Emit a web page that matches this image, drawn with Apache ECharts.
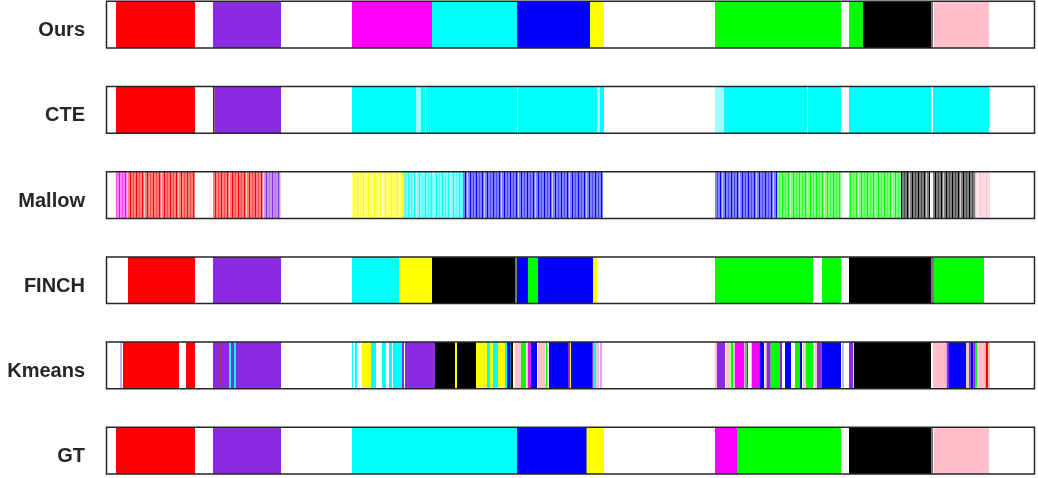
<!DOCTYPE html>
<html>
<head>
<meta charset="utf-8">
<script src="https://cdn.jsdelivr.net/npm/echarts@6/dist/echarts.min.js"></script>
<style>
  html, body { margin: 0; padding: 0; background: #fff; }
  #chart { width: 1038px; height: 478px; }
</style>
</head>
<body>
<div id="chart"></div>
<script>
// method names, top to bottom
const methods = ['Ours', 'CTE', 'Mallow', 'FINCH', 'Kmeans', 'GT'];

// timeline length (frames along the x axis)
const timelineLength = 929;

// segments per method: [start, end, class]
const oursSegs = [
  [10, 89, 'red'], [107, 175, 'purple'], [246, 326, 'magenta'], [326, 411, 'cyan'],
  [411, 484, 'blue'], [484, 498, 'yellow'], [609, 735, 'green'], [743, 757, 'green'],
  [757, 825, 'black'], [825, 827, 'gray'], [828, 883, 'pink']
];
const cteSegs = [
  [10, 89, 'red'], [107, 108.5, 'darkred'], [108.5, 175, 'purple'],
  [246, 310, 'cyan'], [310, 315, 'lightcyan'], [315, 319, 'cyan'], [320, 411, 'cyan'],
  [411.8, 491, 'cyan'], [491, 494, 'lightcyan'], [494, 498, 'cyan'],
  [609, 618, 'lightcyan'], [618, 701, 'cyan'], [702, 735, 'cyan'],
  [743, 825, 'cyan'], [827, 883, 'cyan']
];
const mallowSegs = [
  [10, 21, 'magenta'], [21, 89, 'red'], [107, 157, 'red'], [157, 175, 'purple'],
  [246, 297, 'yellow'], [297, 357, 'cyan'], [357, 497, 'blue'],
  [609, 671, 'blue'], [671, 736, 'green'], [743, 795, 'green'],
  [795, 824, 'black'], [827, 869, 'black'], [869, 884, 'pink']
];
const finchSegs = [
  [22, 89, 'red'], [107, 175, 'purple'], [246, 293, 'cyan'], [293, 326, 'yellow'],
  [326, 409, 'black'], [409, 411, 'gray'], [411, 422, 'blue'], [422, 432, 'green'],
  [432, 487, 'blue'], [487, 491, 'yellow'], [609, 707, 'green'], [716, 735, 'green'],
  [743, 825, 'black'], [825, 828, 'gray'], [828, 878, 'green']
];
const kmeansSegs = [
  [14, 16, 'lavender'], [17, 73, 'red'], [80, 89, 'red'],
  [107, 114, 'purple'], [114, 115, 'crimson'], [115, 123, 'purple'], [123, 125, 'cyan'],
  [125, 128, 'purple'], [128, 130, 'cyan'], [130, 175, 'purple'],
  [246, 247, 'cyan'], [249, 251, 'cyan'], [256, 265, 'yellow'], [265, 270, 'cyan'],
  [276, 280, 'cyan'], [283, 286, 'cyan'], [287, 296, 'cyan'], [296, 298, 'purple'],
  [299, 329, 'purple'], [329, 349, 'black'], [349, 351, 'yellow'], [351, 370, 'black'],
  [370, 381, 'yellow'], [381, 384, 'cyan'], [384, 387, 'yellow'], [387, 392, 'cyan'],
  [392, 399, 'yellow'], [399, 401, 'cyan'], [401, 404, 'blue'], [404, 405, 'teal'],
  [405, 407, 'black'], [407, 409, 'lightyellow'], [409, 415, 'pink'], [415, 420, 'green'],
  [421.7, 424.7, 'magenta'], [424.7, 431, 'blue'], [432, 439, 'pink'], [439.7, 441.3, 'green'],
  [443, 462, 'blue'], [462, 464, 'purple'], [464, 465, 'yellow'], [465, 486, 'blue'],
  [486, 487, 'purple'], [487, 490, 'cyan'], [490, 493, 'pink'], [494, 496, 'lavender'],
  [609, 611, 'pink'], [611, 619, 'purple'], [620, 624, 'pink'], [624.7, 627.3, 'green'],
  [628.7, 638.3, 'magenta'], [639, 640.7, 'green'], [640.7, 642, 'purple'],
  [645.7, 653, 'magenta'], [653.3, 658, 'blue'], [658.7, 660.7, 'pink'], [660.7, 664.7, 'purple'],
  [664.7, 674, 'green'], [674, 676, 'purple'], [679, 685, 'blue'], [689, 694, 'green'],
  [694, 696, 'blue'], [697, 700, 'pink'], [700, 707.3, 'green'], [709, 711, 'pink'],
  [711, 715.7, 'purple'], [715.7, 735, 'blue'], [736, 738, 'lightblue'],
  [743, 747.3, 'purple'], [748, 825, 'black'], [827, 840.7, 'pink'], [840.7, 843, 'purple'],
  [843, 860, 'blue'], [860, 863, 'pink'], [863, 864.7, 'purple'], [864.7, 867.3, 'blue'],
  [867.3, 869, 'purple'], [869, 871, 'green'], [871.3, 879.7, 'pink'], [879.7, 882, 'red'],
  [882, 884, 'pink']
];
const gtSegs = [
  [10, 89, 'red'], [107, 175, 'purple'], [246, 411, 'cyan'], [411, 480, 'blue'],
  [480, 481, 'gray'], [481, 498, 'yellow'], [609, 631, 'magenta'], [631, 735, 'green'],
  [743, 825, 'black'], [825, 827, 'gray'], [828, 883, 'pink']
];

const rows = [oursSegs, cteSegs, mallowSegs, finchSegs, kmeansSegs, gtSegs];
// Mallow is drawn as a noisy per-frame labelling (stripes)
const stripedRows = [2];

const COLORS = {
  red: '#ff0000', purple: '#8a2be2', magenta: '#ff00ff', cyan: '#00ffff',
  blue: '#0000ff', yellow: '#ffff00', green: '#00ff00', black: '#000000',
  pink: '#ffc0cb', gray: '#777777', darkred: '#5a2a00', lightcyan: '#9ffcff',
  lavender: '#d8a8f8', crimson: '#c0206a', teal: '#008a8a', lightyellow: '#fafad0',
  lightblue: '#b8c8ff'
};

const ROW_FRAC = 0.548;
const patternCache = {};

function stripes(color) {
  if (patternCache[color]) return patternCache[color];
  const w = 17;
  const c = document.createElement('canvas');
  c.width = w;
  c.height = 4;
  const g = c.getContext('2d');
  g.fillStyle = '#fff';
  g.fillRect(0, 0, w, 4);
  g.globalAlpha = 0.5;
  g.fillStyle = color;
  g.fillRect(0, 0, w, 4);
  // full colour lines
  g.globalAlpha = 1;
  g.fillRect(0, 0, 1, 4);
  g.fillRect(6, 0, 1, 4);
  g.fillRect(11, 0, 1, 4);
  // half lines
  g.globalAlpha = 0.4;
  g.fillRect(3, 0, 1, 4);
  g.fillRect(14, 0, 1, 4);
  // light gap
  g.globalAlpha = 0.6;
  g.fillStyle = '#fff';
  g.fillRect(8, 0, 1, 4);
  patternCache[color] = { image: c, repeat: 'repeat' };
  return patternCache[color];
}

function makeRender(striped) {
  return function (params, api) {
    const p0 = api.coord([api.value(0), api.value(2)]);
    const p1 = api.coord([api.value(1), api.value(2)]);
    const h = Math.abs(api.size([0, ROW_FRAC])[1]);
    const color = api.visual('color');
    return {
      type: 'rect',
      shape: { x: p0[0], y: p0[1] - h / 2, width: p1[0] - p0[0], height: h },
      style: { fill: striped ? stripes(color) : color }
    };
  };
}

// row box plus its method name
function renderFrame(params, api) {
  const r = api.value(0);
  const p0 = api.coord([0, r]);
  const p1 = api.coord([timelineLength, r]);
  const h = Math.abs(api.size([0, ROW_FRAC])[1]);
  return {
    type: 'group',
    children: [
      {
        type: 'rect',
        shape: { x: p0[0] + 0.5, y: p0[1] - h / 2, width: p1[0] - p0[0] - 1, height: h },
        style: { fill: 'none', stroke: '#262626', lineWidth: 1.5 }
      },
      {
        type: 'text',
        x: p0[0] - 21,
        y: p0[1] + 6,
        style: {
          text: methods[r],
          fill: '#262626',
          fontSize: 20,
          fontWeight: 'bold',
          fontFamily: 'Liberation Sans, Arial, sans-serif',
          align: 'right',
          verticalAlign: 'middle'
        }
      }
    ]
  };
}

const series = rows.map((segs, r) => ({
  type: 'custom',
  name: methods[r],
  renderItem: makeRender(stripedRows.includes(r)),
  encode: { x: [0, 1], y: 2 },
  clip: false,
  silent: true,
  data: segs.map((s) => ({
    value: [s[0], s[1], r],
    itemStyle: { color: COLORS[s[2]] }
  }))
}));

series.push({
  type: 'custom',
  name: 'frame',
  renderItem: renderFrame,
  encode: { y: 0 },
  clip: false,
  silent: true,
  z: 10,
  data: methods.map((m, r) => [r])
});

const chart = echarts.init(document.getElementById('chart'));
chart.setOption({
  animation: false,
  backgroundColor: '#fff',
  grid: { left: 106, right: 3, top: 1.3, bottom: 4 },
  xAxis: {
    type: 'value',
    min: 0,
    max: timelineLength,
    show: false
  },
  yAxis: {
    type: 'value',
    inverse: true,
    min: -ROW_FRAC / 2,
    max: methods.length - 1 + ROW_FRAC / 2,
    show: false
  },
  series: series
});
</script>
</body>
</html>
